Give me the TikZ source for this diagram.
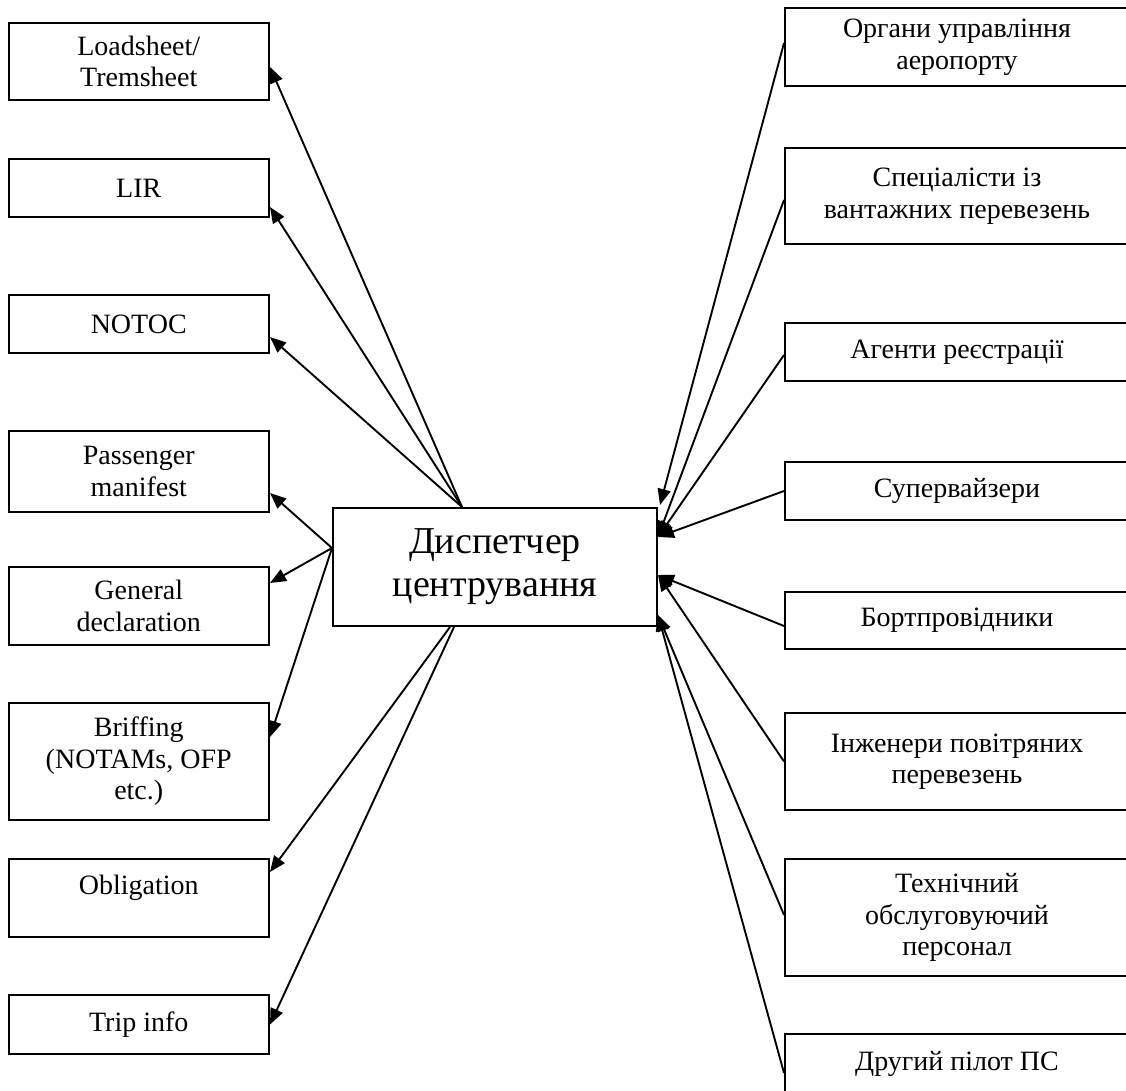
\documentclass[tikz,border=0pt]{standalone}
\usepackage{fontspec}
\setmainfont{Liberation Serif}
\usepackage{tikz}
\usetikzlibrary{shapes,arrows.meta,positioning}

\tikzset{
  box/.style={draw, rectangle, line width=2pt, align=center, inner sep=0pt,
    font=\fontsize{28}{31.5}\selectfont},
  lbox/.style={box, minimum width=260.5pt},
  rbox/.style={box, minimum width=344pt},
  hub/.style={draw, rectangle, line width=2pt, align=center,
    minimum width=324pt, minimum height=118pt, font=\fontsize{38}{43}\selectfont},
  link/.style={line width=1.9pt}
}

\begin{document}
\begin{tikzpicture}[x=1pt, y=-1pt, >={Triangle[length=16pt,width=13pt]}]
      \clip (0,0) rectangle (1126,1090);

      % Centre
      \node[hub] (disp) at (495,567) {Диспетчер\\центрування};

      % Documents (left)
      \node[lbox, minimum height=77pt] (load) at (138.75,61.5) {Loadsheet/\\Tremsheet};
      \node[lbox, minimum height=58pt] (lir) at (138.75,188) {LIR};
      \node[lbox, minimum height=58pt] (notoc) at (138.75,324) {NOTOC};
      \node[lbox, minimum height=81pt] (pass) at (138.75,471.5) {Passenger\\manifest};
      \node[lbox, minimum height=78pt] (gen) at (138.75,606) {General\\declaration};
      \node[lbox, minimum height=117pt] (brief) at (138.75,761.5) {Briffing\\(NOTAMs, OFP\\etc.)};
      \node[lbox, minimum height=78pt] (oblig) at (138.75,898) {Obligation\\[-6pt]\mbox{}};
      \node[lbox, minimum height=59pt] (trip) at (138.75,1024.5) {Trip info};

      % Staff (right)
      \node[rbox, minimum height=78pt] (org) at (957,47) {Органи управління\\аеропорту};
      \node[rbox, minimum height=96pt] (spec) at (957,196) {Спеціалісти із\\вантажних перевезень};
      \node[rbox, minimum height=58pt] (agent) at (957,352) {Агенти реєстрації};
      \node[rbox, minimum height=58pt] (super) at (957,491) {Супервайзери};
      \node[rbox, minimum height=57pt] (bort) at (957,620.5) {Бортпровідники};
      \node[rbox, minimum height=97pt] (eng) at (957,761.5) {Інженери повітряних\\перевезень};
      \node[rbox, minimum height=117pt] (tech) at (957,917.5) {Технічний\\обслуговуючий\\персонал};
      \node[rbox, minimum height=60pt] (pilot) at (957,1064) {Другий пілот ПС};

      % Outgoing arrows
      \draw[link, ->] ([xshift=-33pt]disp.north) -- ([yshift=-5.5pt]load.east);
      \draw[link, ->] ([xshift=-33pt]disp.north) -- ([yshift=-19pt]lir.east);
      \draw[link, ->] ([xshift=-33pt]disp.north) -- ([yshift=-13pt]notoc.east);
      \draw[link, ->] ([yshift=19pt]disp.west) -- ([yshift=-21.5pt]pass.east);
      \draw[link, ->] ([yshift=19pt]disp.west) -- ([yshift=23pt]gen.east);
      \draw[link, ->] ([yshift=19pt]disp.west) -- ([yshift=24.5pt]brief.east);
      \draw[link, ->] ([xshift=-45pt]disp.south) -- ([yshift=26pt]oblig.east);
      \draw[link, ->] ([xshift=-41pt]disp.south) -- (trip.east);

      % Incoming arrows
      \draw[link, ->] ([yshift=4pt]org.west) -- ([xshift=2pt,yshift=2pt]disp.north east);
      \draw[link, ->] ([yshift=-4pt]spec.west) -- ([yshift=30pt]disp.east);
      \draw[link, ->] ([yshift=-3pt]agent.west) -- ([yshift=30pt]disp.east);
      \draw[link, ->] (super.west) -- ([yshift=30pt]disp.east);
      \draw[link, ->] ([yshift=-5.5pt]bort.west) -- ([yshift=-8pt]disp.east);
      \draw[link, ->] (eng.west) -- ([yshift=-8pt]disp.east);
      \draw[link, ->] ([yshift=2.5pt]tech.west) -- ([yshift=-48pt]disp.east);
      \draw[link, ->] ([yshift=-9pt]pilot.west) -- ([yshift=-48pt]disp.east);
    \end{tikzpicture}
\end{document}
